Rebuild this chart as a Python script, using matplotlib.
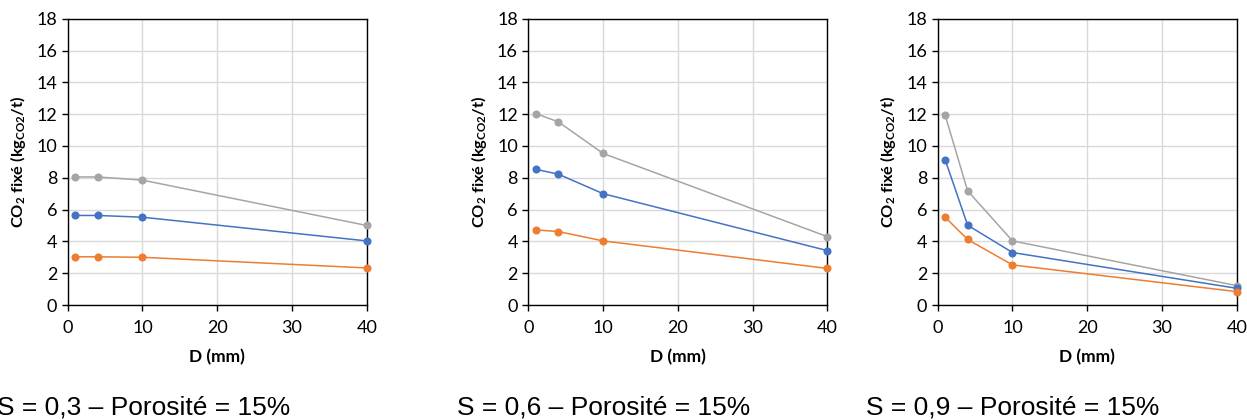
import matplotlib
matplotlib.use("Agg")
import matplotlib.pyplot as plt

plt.rcParams['font.family'] = ['Lato', 'DejaVu Sans']
plt.rcParams['mathtext.fontset'] = 'custom'
plt.rcParams['mathtext.rm'] = 'Lato'
plt.rcParams['mathtext.bf'] = 'Lato:bold'
plt.rcParams['mathtext.it'] = 'Lato:italic'

D = [1, 4, 10, 40]

gray_s03 = [8.05, 8.05, 7.85, 5.0]
blue_s03 = [5.63, 5.63, 5.52, 4.03]
orange_s03 = [3.03, 3.03, 3.0, 2.33]

gray_s06 = [12.03, 11.52, 9.53, 4.3]
blue_s06 = [8.53, 8.23, 7.0, 3.42]
orange_s06 = [4.72, 4.62, 4.03, 2.3]

gray_s09 = [11.93, 7.18, 4.03, 1.22]
blue_s09 = [9.13, 5.02, 3.3, 1.05]
orange_s09 = [5.52, 4.12, 2.52, 0.84]

captions = ["S = 0,3 – Porosité = 15%", "S = 0,6 – Porosité = 15%", "S = 0,9 – Porosité = 15%"]
panels = [
    (gray_s03, blue_s03, orange_s03),
    (gray_s06, blue_s06, orange_s06),
    (gray_s09, blue_s09, orange_s09),
]

xticks = [0, 10, 20, 30, 40]
yticks = list(range(0, 19, 2))

c_gray = '#A5A5A5'
c_blue = '#4472C4'
c_orange = '#ED7D31'

W, H = 1247, 420
fig = plt.figure(figsize=(W / 100, H / 100), dpi=100)

lefts = [67.7, 528.3, 937.7]
ax_w = 299
ax_top, ax_bot = 18.7, 305
cap_x = [-3, 457, 866]

for i, (g, b, o) in enumerate(panels):
    ax = fig.add_axes([lefts[i] / W, (H - ax_bot) / H, ax_w / W, (ax_bot - ax_top) / H])
    for ys, c in ((g, c_gray), (b, c_blue), (o, c_orange)):
        ax.plot(D, ys, color=c, lw=1.1, marker='o', ms=4.8, mec=c, mfc=c, clip_on=False, zorder=3)
    ax.set_xlim(0, 40)
    ax.set_ylim(0, 18)
    ax.set_xticks(xticks)
    ax.set_yticks(yticks)
    ax.grid(True, color='#D9D9D9', lw=1.0)
    ax.set_axisbelow(True)
    for s in ax.spines.values():
        s.set_color('black')
        s.set_linewidth(1.0)
    ax.tick_params(direction='out', length=4.5, width=1.0, color='black', labelsize=13, labelcolor='black', pad=3)
    ax.tick_params(axis='x', pad=6)
    ax.set_xlabel('D (mm)', fontsize=12.5, fontweight='bold')
    ax.xaxis.set_label_coords(0.5, -0.152)
    ax.set_ylabel(r'CO$_{\mathbf{2}}$ fixé (kg$_{\mathbf{CO2}}$/t)', fontsize=11.8, fontweight='bold')
    ax.yaxis.set_label_coords(-0.133, 0.5)
    fig.text(cap_x[i] / W, (H - 407) / H, captions[i], fontsize=19, family='Liberation Sans', va='center', ha='left')

fig.savefig('out.png', dpi=100)
